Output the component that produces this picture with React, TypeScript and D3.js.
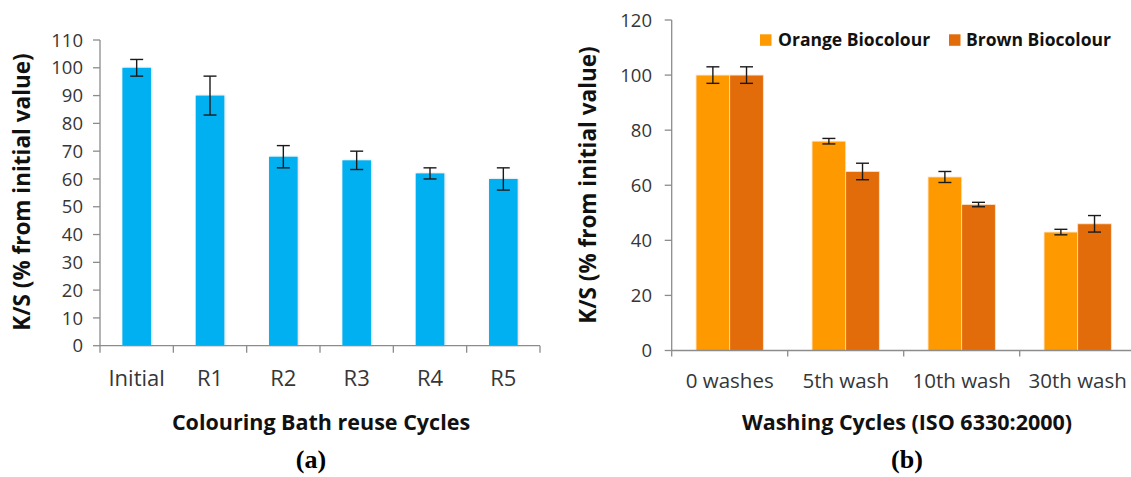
import React from "react";
import * as d3 from "d3";

// Panel (a): colouring bath reuse cycles
const reuseCycles = ["Initial", "R1", "R2", "R3", "R4", "R5"];
const reuseValues = [100, 90, 68, 66.7, 62, 60];
const reuseErrors = [3, 7, 4, 3.3, 2, 4];
const reuseTicks = [0, 10, 20, 30, 40, 50, 60, 70, 80, 90, 100, 110];

// Panel (b): washing cycles
const washCycles = ["0 washes", "5th wash", "10th wash", "30th wash"];
const seriesNames = ["Orange Biocolour", "Brown Biocolour"];
const orangeValues = [100, 76, 63, 43];
const orangeErrors = [3, 1, 2, 1];
const brownValues = [100, 65, 53, 46];
const brownErrors = [3, 3, 0.8, 3];
const washTicks = [0, 20, 40, 60, 80, 100, 120];

const FONT = "'Open Sans', 'DejaVu Sans', sans-serif";
const SERIF = "'Liberation Serif', 'DejaVu Serif', serif";
const AXIS = "#8c8c8c";
const TICK_TEXT = "#363636";
const BLUE = "#00b0f0";
const ORANGE = "#ff9900";
const BROWN = "#e36c0a";

function ErrorBar({ x, y0, y1, cap }: { x: number; y0: number; y1: number; cap: number }) {
  return (
    <g stroke="#1a1a1a" strokeWidth={1.4}>
      <line x1={x} x2={x} y1={y0} y2={y1} />
      <line x1={x - cap / 2} x2={x + cap / 2} y1={y0} y2={y0} />
      <line x1={x - cap / 2} x2={x + cap / 2} y1={y1} y2={y1} />
    </g>
  );
}

function PanelA() {
  const left = 100, right = 540, top = 40, bottom = 345.7;
  const x = d3.scaleBand<string>().domain(reuseCycles).range([left, right]);
  const y = d3.scaleLinear().domain([0, 110]).range([bottom, top]);
  const step = x.step();
  const barW = step * 0.39;
  return (
    <g>
      {/* bars */}
      {reuseCycles.map((c, i) => {
        const cx = (x(c) as number) + step / 2;
        return (
          <rect
            key={c}
            x={cx - barW / 2}
            y={y(reuseValues[i])}
            width={barW}
            height={bottom - y(reuseValues[i])}
            fill={BLUE}
            filter="url(#soft)"
          />
        );
      })}
      {/* axes */}
      <line x1={left} x2={left} y1={top} y2={bottom} stroke={AXIS} strokeWidth={1.3} />
      <line x1={left} x2={right} y1={bottom} y2={bottom} stroke={AXIS} strokeWidth={1.3} />
      {reuseTicks.map((t) => (
        <g key={t}>
          <line x1={left - 7} x2={left} y1={y(t)} y2={y(t)} stroke={AXIS} strokeWidth={1.3} />
          <text x={83} y={y(t)} dy="0.36em" textAnchor="end" fontSize={18.5} fill={TICK_TEXT} fontFamily={FONT}>
            {t}
          </text>
        </g>
      ))}
      {[...reuseCycles.map((c) => x(c) as number), right].map((px, i) => (
        <line key={i} x1={px} x2={px} y1={bottom} y2={bottom + 7} stroke={AXIS} strokeWidth={1.3} />
      ))}
      {reuseCycles.map((c) => (
        <text key={c} x={(x(c) as number) + step / 2} y={386} textAnchor="middle" fontSize={22} fill={TICK_TEXT} fontFamily={FONT}>
          {c}
        </text>
      ))}
      {/* error bars */}
      {reuseCycles.map((c, i) => {
        const cx = (x(c) as number) + step / 2;
        return (
          <ErrorBar key={c} x={cx} y0={y(reuseValues[i] + reuseErrors[i])} y1={y(reuseValues[i] - reuseErrors[i])} cap={13} />
        );
      })}
      {/* titles */}
      <text transform="translate(30,192) rotate(-90)" textAnchor="middle" fontSize={22.5} fontWeight="bold" fill="#111" fontFamily={FONT}>
        K/S (% from initial value)
      </text>
      <text x={321} y={430} textAnchor="middle" fontSize={21.5} fontWeight="bold" fill="#111" fontFamily={FONT}>
        Colouring Bath reuse Cycles
      </text>
      <text x={311} y={468} textAnchor="middle" fontSize={26} fontWeight="bold" fill="#000" fontFamily={SERIF}>
        (a)
      </text>
    </g>
  );
}

function PanelB() {
  const left = 671.7, right = 1135.7, top = 20, bottom = 350.5;
  const x = d3.scaleBand<string>().domain(washCycles).range([left, right]);
  const y = d3.scaleLinear().domain([0, 120]).range([bottom, top]);
  const step = x.step();
  const barW = step * 0.29;
  const series = [
    { name: seriesNames[0], values: orangeValues, errors: orangeErrors, color: ORANGE, offset: -1 },
    { name: seriesNames[1], values: brownValues, errors: brownErrors, color: BROWN, offset: 0 },
  ];
  return (
    <g>
      {series.map((s) =>
        washCycles.map((c, i) => {
          const bx = (x(c) as number) + step / 2 + s.offset * barW;
          return (
            <rect
              key={s.name + c}
              x={bx}
              y={y(s.values[i])}
              width={barW}
              height={bottom - y(s.values[i])}
              fill={s.color}
              stroke="#ffe2c2"
              strokeWidth={0.8}
            />
          );
        })
      )}
      <line x1={left} x2={left} y1={top} y2={bottom} stroke={AXIS} strokeWidth={1.3} />
      <line x1={left} x2={right} y1={bottom} y2={bottom} stroke={AXIS} strokeWidth={1.3} />
      {washTicks.map((t) => (
        <g key={t}>
          <line x1={left - 7} x2={left} y1={y(t)} y2={y(t)} stroke={AXIS} strokeWidth={1.3} />
          <text x={652} y={y(t)} dy="0.36em" textAnchor="end" fontSize={18.5} fill={TICK_TEXT} fontFamily={FONT}>
            {t}
          </text>
        </g>
      ))}
      {washCycles.map((c) => (
        <line key={c} x1={x(c) as number} x2={x(c) as number} y1={bottom} y2={bottom + 6} stroke={AXIS} strokeWidth={1.3} />
      ))}
      {washCycles.map((c) => (
        <text key={c} x={(x(c) as number) + step / 2} y={388} textAnchor="middle" fontSize={20.5} fill={TICK_TEXT} fontFamily={FONT}>
          {c}
        </text>
      ))}
      {series.map((s) =>
        washCycles.map((c, i) => {
          const cx = (x(c) as number) + step / 2 + s.offset * barW + barW / 2;
          return (
            <ErrorBar key={s.name + c} x={cx} y0={y(s.values[i] + s.errors[i])} y1={y(s.values[i] - s.errors[i])} cap={13} />
          );
        })
      )}
      {/* legend */}
      {[
        { name: seriesNames[0], color: ORANGE, sx: 760, tx: 778 },
        { name: seriesNames[1], color: BROWN, sx: 949, tx: 966 },
      ].map((l) => (
        <g key={l.name}>
          <rect x={l.sx} y={34.3} width={11.5} height={11.5} fill={l.color} />
          <text x={l.tx} y={40} dy="0.35em" fontSize={17.5} fontWeight="bold" fill="#111" fontFamily={FONT}>
            {l.name}
          </text>
        </g>
      ))}
      <text transform="translate(596,185) rotate(-90)" textAnchor="middle" fontSize={22.5} fontWeight="bold" fill="#111" fontFamily={FONT}>
        K/S (% from initial value)
      </text>
      <text x={907} y={430} textAnchor="middle" fontSize={21.5} fontWeight="bold" fill="#111" fontFamily={FONT}>
        Washing Cycles (ISO 6330:2000)
      </text>
      <text x={907} y={468} textAnchor="middle" fontSize={26} fontWeight="bold" fill="#000" fontFamily={SERIF}>
        (b)
      </text>
    </g>
  );
}

export default function App() {
  return (
    <svg
      width={1131}
      height={477}
      style={{ position: "absolute", left: 0, top: 0, background: "#fff" }}
    >
      <defs>
        <filter id="soft" x="-20%" y="-5%" width="140%" height="110%">
          <feDropShadow dx="0.8" dy="0" stdDeviation="1" floodColor="#000" floodOpacity="0.18" />
        </filter>
      </defs>
      <rect width={1131} height={477} fill="#fff" />
      <PanelA />
      <PanelB />
    </svg>
  );
}
